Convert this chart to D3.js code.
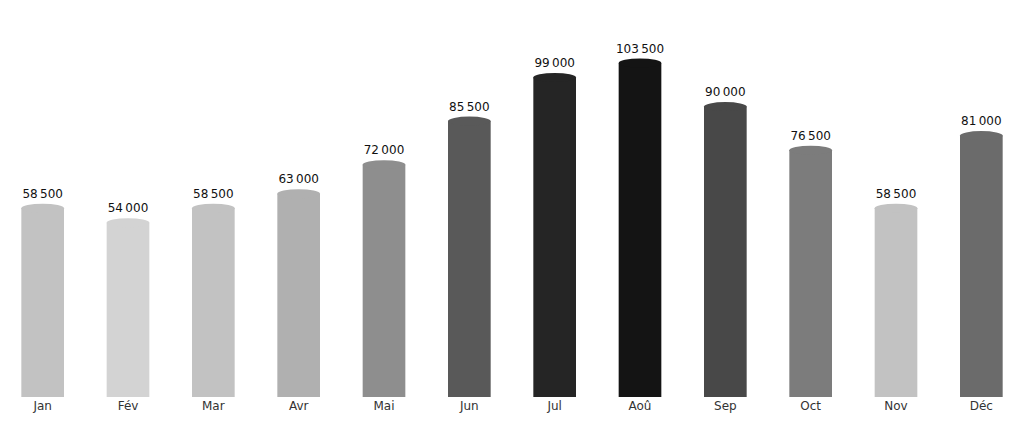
<!DOCTYPE html>
<html><head><meta charset="utf-8">
<script src="https://cdn.jsdelivr.net/npm/d3@7"></script>
<style>html,body{margin:0;padding:0;background:#fff;}svg{display:block;font-family:"DejaVu Sans",sans-serif;}</style>
</head><body>
<svg id="c" width="1024" height="422"></svg>
<script>
const months = ["Jan","Fév","Mar","Avr","Mai","Jun","Jul","Aoû","Sep","Oct","Nov","Déc"];
const values = [58500,54000,58500,63000,72000,85500,99000,103500,90000,76500,58500,81000];

const svg = d3.select("#c");
const W = 1024, baseY = 397;
const x = d3.scaleBand().domain(months).range([0, W]).paddingInner(0.5).paddingOuter(0.25);
const y = d3.scaleLinear().domain([0, 103500]).range([baseY, 63]);
const color = d3.scaleLinear().domain([54000, 103500]).range(["#d3d3d3", "#141414"]);
const fr = d3.formatLocale({decimal: ",", thousands: "\u202F", grouping: [3], currency: ["", " €"]});
const fmt = fr.format(",d");
const ry = 4.5;
const data = months.map((m, i) => ({m, v: values[i]}));

const g = svg.append("g");
g.selectAll("rect.bar").data(data).join("rect")
  .attr("class", "bar")
  .attr("x", d => x(d.m)).attr("width", x.bandwidth())
  .attr("y", d => y(d.v)).attr("height", d => baseY - y(d.v))
  .attr("fill", d => color(d.v));
g.selectAll("ellipse.cap").data(data).join("ellipse")
  .attr("class", "cap")
  .attr("cx", d => x(d.m) + x.bandwidth() / 2).attr("cy", d => y(d.v))
  .attr("rx", x.bandwidth() / 2).attr("ry", ry)
  .attr("fill", d => color(d.v));
g.selectAll("text.val").data(data).join("text")
  .attr("class", "val")
  .attr("x", d => x(d.m) + x.bandwidth() / 2).attr("y", d => y(d.v) - 10.5)
  .attr("text-anchor", "middle").attr("font-size", 12).attr("fill", "#111")
  .text(d => fmt(d.v));

const ax = svg.append("g").attr("transform", `translate(0,${baseY})`)
  .call(d3.axisBottom(x).tickSize(0).tickPadding(4));
ax.select(".domain").remove();
ax.selectAll("text").attr("font-size", 12).attr("fill", "#333").attr("font-family", "DejaVu Sans, sans-serif");
</script>
</body></html>
